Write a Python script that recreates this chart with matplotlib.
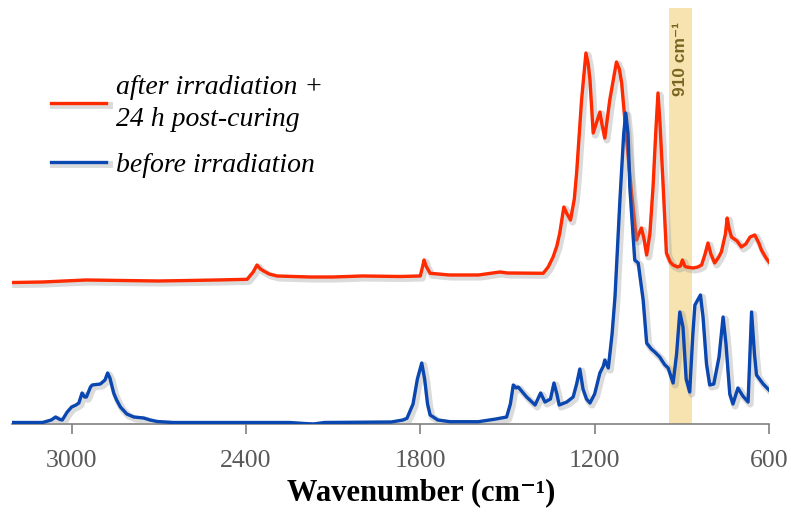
import numpy as np
import matplotlib
matplotlib.use("Agg")
import matplotlib.pyplot as plt
import matplotlib.patheffects as pe

# blue: before irradiation (wavenumber, relative absorbance)
blue_wn = [3200, 3100, 3070, 3055, 3040, 3032, 3015, 3000, 2985, 2975, 2964, 2955, 2949, 2935,
           2929, 2901, 2885, 2876, 2868, 2855, 2845, 2832, 2810, 2786, 2752, 2730, 2706, 2650,
           2400, 2250, 2200, 2167, 2130, 1900, 1860, 1846, 1825, 1810, 1795, 1785, 1775, 1766,
           1740, 1698, 1600, 1540, 1503, 1490, 1480, 1470, 1463, 1434, 1405, 1386, 1371, 1352,
           1340, 1330, 1322, 1296, 1274, 1262, 1251, 1240, 1228, 1216, 1200, 1182, 1170, 1165,
           1153, 1140, 1130, 1113, 1100, 1093, 1085, 1079, 1062, 1050, 1033, 1021, 1005, 993,
           976, 965, 958, 947, 930, 918, 907, 896, 885, 873, 862, 855, 836, 827, 815, 804, 790,
           780, 772, 758, 748, 735, 724, 707, 690, 672, 660, 650, 643, 620, 600]
blue_abs = [1.5, 1.5, 4, 7, 4.5, 4, 12, 17, 19, 21, 31, 27, 27, 37,
            39, 40, 44, 51, 46, 31, 24, 17, 10, 7, 6, 4, 2.5, 1.5,
            1.5, 1.5, 0.5, 0, 1.5, 2, 4, 5.7, 20, 45, 61, 45, 20, 9,
            4, 2.3, 2.3, 5, 7, 20, 39, 36, 37, 27, 19, 31, 22, 25,
            41, 30, 19, 22, 27, 40, 55, 35, 25, 21, 30, 51, 58, 64,
            56, 90, 127, 224, 290, 311, 290, 237, 164, 161, 124, 81, 75, 72,
            67, 62, 59, 56, 41, 70, 112, 97, 45, 32, 90, 119, 129, 107, 60, 39, 40,
            55, 67, 107, 80, 30, 20, 36, 28, 22, 112, 70, 49, 40, 34]

# red: after irradiation + 24 h post-curing
red_wn = [3200, 3100, 2950, 2700, 2500, 2396, 2375, 2362, 2350, 2339, 2320, 2293, 2179, 2100,
          2000, 1870, 1800, 1790, 1787, 1780, 1766, 1700, 1600, 1526, 1500, 1377, 1360, 1343,
          1330, 1320, 1306, 1295, 1283, 1270, 1262, 1245, 1230, 1222, 1216, 1205, 1195, 1182,
          1175, 1165, 1148, 1125, 1115, 1107, 1090, 1073, 1056, 1048, 1039, 1030, 1021, 1010,
          999, 990, 982, 975, 964, 953, 940, 930, 915, 905, 898, 890, 884, 861, 845, 832, 820,
          810, 800, 787, 775, 764, 750, 744, 737, 729, 710, 695, 680, 665, 649, 635, 626, 610, 600]
red_abs = [141.5, 142, 144, 143, 144, 144.7, 152, 159, 155, 153, 150, 148, 147, 147,
           148, 147.5, 148, 160, 164, 158, 150.7, 149, 149, 152, 151, 150.7, 157, 167,
           178, 191, 217, 210, 204, 225, 251, 324, 371, 360, 344, 291, 300, 312,
           300, 286, 324, 362, 355, 341, 284, 231, 184, 190, 196, 185, 169, 190,
           237, 290, 331, 300, 237, 171, 162, 159, 157, 158, 164, 158, 157, 156, 157, 159, 170,
           181, 170, 161, 166, 172, 190, 206, 195, 187, 183, 177, 180, 187, 189, 181, 174, 166, 162]

tick_vals = [3000, 2400, 1800, 1200, 600]
band = (866, 945)

serif = ["Liberation Serif", "DejaVu Serif"]

fig = plt.figure(figsize=(7.91, 5.16), dpi=100)
ax = fig.add_axes([12 / 791, 92 / 516, 757 / 791, 416 / 516])

ax.axvspan(band[0], band[1], color="#f7e3b0", lw=0, zorder=0)
ax.text(sum(band) / 2, 402, "910 cm\u207b\u00b9", rotation=90, ha="center", va="top",
        fontsize=12.5, fontweight="bold", color="#7a6520", family=["Liberation Sans", "DejaVu Sans"])

shadow = [pe.SimpleLineShadow(offset=(1.5, -1.5), shadow_color="0.6", alpha=0.35, linewidth=5), pe.Normal()]
ax.plot(red_wn, red_abs, color="#ff2a00", lw=2.4, path_effects=shadow,
        label="after irradiation +\n24 h post-curing", zorder=3)
ax.plot(blue_wn, blue_abs, color="#0a47b0", lw=2.4, path_effects=shadow,
        label="before irradiation", zorder=3)

ax.set_xlim(3205, 600)
ax.set_ylim(0, 416)
ax.set_yticks([])
for s in ["top", "left", "right"]:
    ax.spines[s].set_visible(False)
ax.spines["bottom"].set_color("#808080")
ax.spines["bottom"].set_linewidth(1.2)
ax.set_xticks(tick_vals)
ax.set_xticklabels([str(v) for v in tick_vals], family=serif, fontsize=18.5, color="#595959")
ax.tick_params(axis="x", length=7, width=1.2, color="#808080", pad=12)
ax.set_xlabel("Wavenumber (cm\u207b\u00b9)", family=serif, fontsize=22,
              fontweight="bold")
ax.xaxis.set_label_coords((421 - 12) / 757, -0.13)

leg = ax.legend(loc="upper left", bbox_to_anchor=(0.033, 0.872), frameon=False,
                prop={"family": serif, "style": "italic", "size": 20},
                handlelength=2.0, handletextpad=0.35, labelspacing=0.74, borderpad=0)
for t in leg.get_texts():
    t.set_linespacing(1.35)

fig.savefig("out.png", dpi=100)
